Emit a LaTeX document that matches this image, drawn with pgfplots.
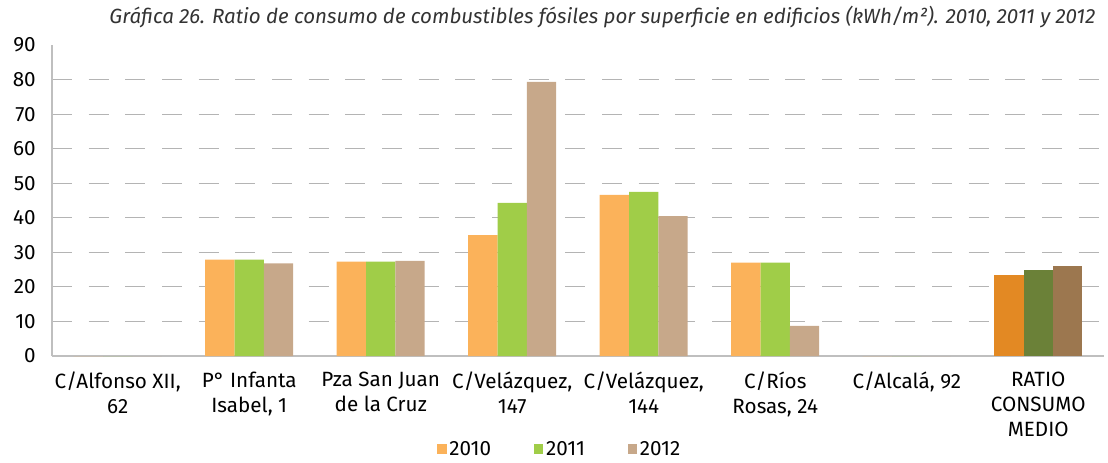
\documentclass[border=0pt]{standalone}
\usepackage{fontspec}
\setmainfont{Fira Sans}
\usepackage{pgfplots}
\pgfplotsset{compat=1.18}
\definecolor{cA}{HTML}{FBB25A}
\definecolor{cB}{HTML}{A0CD48}
\definecolor{cC}{HTML}{C7A88A}
\definecolor{rA}{HTML}{E38923}
\definecolor{rB}{HTML}{6B8138}
\definecolor{rC}{HTML}{9C774F}
\definecolor{gridgray}{HTML}{B4B4B4}
\definecolor{axisgray}{HTML}{BFBFBF}
\definecolor{titlegray}{HTML}{333333}
\begin{document}
\begin{tikzpicture}
\begin{axis}[
  scale only axis, width=789pt, height=233.25pt,
  xmin=-0.5, xmax=7.5, ymin=0, ymax=90,
  axis x line*=bottom, axis y line*=left,
  axis line style={-, draw=axisgray, line width=0.9pt},
  ytick={0,10,...,80}, extra y ticks={90}, extra y tick style={grid=none},
  ymajorgrids, grid style={dash pattern=on 15pt off 12.5pt, line width=0.9pt, draw=gridgray},
  major tick length=0pt,
  /pgf/number format/assume math mode=true,
  yticklabel style={font=\fontsize{15.5}{18}\selectfont, inner sep=0pt, xshift=-12pt},
  xtick={0,...,7},
  xticklabels={{C/Alfonso XII,\\62},{P\textdegree{} Infanta\\Isabel, 1},{Pza San Juan\\de la Cruz},{C/Velázquez,\\147},{C/Velázquez,\\144},{C/Ríos\\Rosas, 24},{C/Alcalá, 92},{RATIO\\CONSUMO\\MEDIO}},
  xticklabel style={font=\fontsize{15.5}{18.75}\selectfont, align=center, anchor=north, inner sep=0pt, yshift=-12pt},
  bar width=22pt,
  legend style={draw=none, fill=none, at={(0.483,-0.30)}, anchor=center, legend columns=3,
    font=\fontsize{15.5}{18}\selectfont,
    /tikz/every even column/.append style={column sep=30pt}},
  legend image code/.code={\draw[#1, draw=none] (0pt,-3.6pt) rectangle (7.2pt,3.6pt);},
]
\addplot[ybar, bar shift=-22pt, fill=cA, draw=none] coordinates {(0,0)(1,27.9)(2,27.3)(3,35.0)(4,46.6)(5,27.0)(6,0)};
\addlegendentry{2010}
\addplot[ybar, bar shift=0pt, fill=cB, draw=none] coordinates {(0,0)(1,27.9)(2,27.3)(3,44.3)(4,47.5)(5,27.0)(6,0)};
\addlegendentry{2011}
\addplot[ybar, bar shift=22pt, fill=cC, draw=none] coordinates {(0,0)(1,26.8)(2,27.5)(3,79.3)(4,40.5)(5,8.7)(6,0)};
\addlegendentry{2012}
\addplot[ybar, bar shift=-22pt, fill=rA, draw=none, forget plot] coordinates {(7,23.5)};
\addplot[ybar, bar shift=0pt, fill=rB, draw=none, forget plot] coordinates {(7,24.9)};
\addplot[ybar, bar shift=22pt, fill=rC, draw=none, forget plot] coordinates {(7,26.0)};
\end{axis}
\node[anchor=east, text=titlegray, font=\fontsize{15.4}{17}\itshape\selectfont] at (786pt,254pt) {Gráfica 26. Ratio de consumo de combustibles fósiles por superficie en edificios (kWh/m²). 2010, 2011 y 2012};
\useasboundingbox (-39pt,-75.75pt) rectangle (792pt,267pt);
\end{tikzpicture}
\end{document}
